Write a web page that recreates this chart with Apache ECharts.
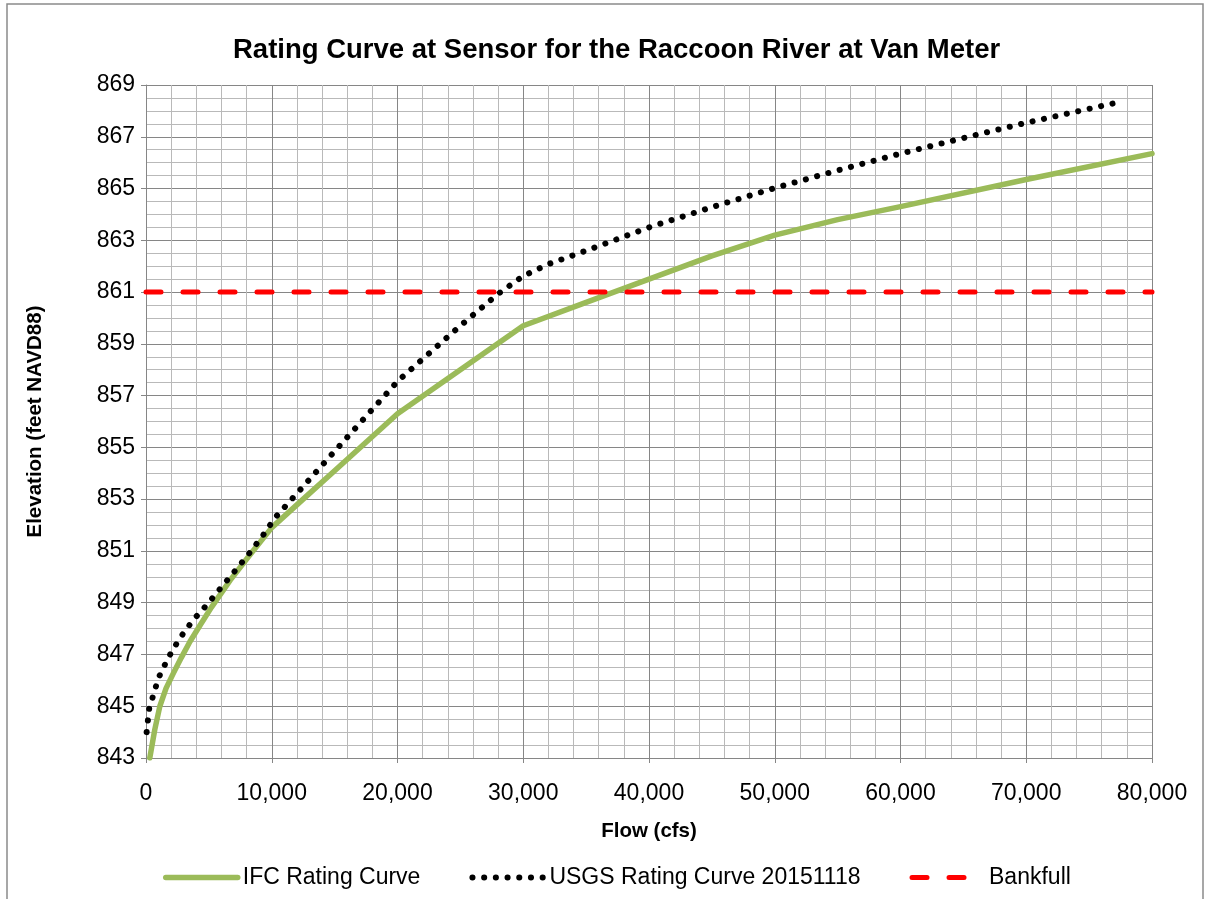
<!DOCTYPE html>
<html>
<head>
<meta charset="utf-8">
<script src="https://cdn.jsdelivr.net/npm/echarts@6/dist/echarts.min.js"></script>
<style>
  html, body { margin: 0; padding: 0; background: #fff; }
  #chart { width: 1207px; height: 899px; }
</style>
</head>
<body>
<div id="chart"></div>
<script>
// y axis starts at 843, which is not a multiple of the 2 ft step,
// so the axis runs on (elevation - Y_BASE) and labels add it back
const Y_BASE = 843

const xTicks = [0, 10000, 20000, 30000, 40000, 50000, 60000, 70000, 80000]
const yTicks = [843, 845, 847, 849, 851, 853, 855, 857, 859, 861, 863, 865, 867, 869]

// IFC rating curve: [flow cfs, elevation ft]
const ifcFlow = [300, 700, 1100, 1600, 2200, 2800, 3500, 4300, 5200, 6700, 8300, 10000, 12500, 15000, 20000,
  25000, 30000, 35000, 40000, 45000, 50000, 55000, 60000, 70000, 80000]
const ifcElev = [843.0, 844.1, 845.0, 845.7, 846.3, 846.87, 847.5, 848.13, 848.82, 849.87, 850.87, 851.9, 853.0, 854.1, 856.3,
  858.0, 859.7, 860.6, 861.5, 862.4, 863.2, 863.8, 864.3, 865.35, 866.35]

// USGS rating curve 20151118
const usgsFlow = [50, 250, 500, 1000, 1800, 2650, 3700, 4900, 6000, 7200, 8200, 9300, 10300,
  15000, 20000, 25000, 28000, 30000, 32000, 35000, 40000, 45000, 50000, 55000, 60000,
  66000, 70000, 77500]
const usgsElev = [844.0, 844.9, 845.3, 846.1, 846.9, 847.6, 848.3, 848.95, 849.6, 850.3, 850.9, 851.6, 852.3,
  854.85, 857.55, 859.7, 860.93, 861.62, 862.08, 862.6, 863.5, 864.28, 865.02, 865.7, 866.35,
  867.07, 867.54, 868.35]

// bankfull stage
const bankFlow = [0, 80000]
const bankElev = [861, 861]

const FONT = 'Liberation Sans'

function pairs(xs, ys) {
  return xs.map((x, i) => [x, ys[i] - Y_BASE])
}

const chart = echarts.init(document.getElementById('chart'))

const option = {
  backgroundColor: '#ffffff',
  animation: false,
  textStyle: { fontFamily: FONT, color: '#000' },
  graphic: [
    {
      type: 'rect',
      shape: { x: 7, y: 4, width: 1196, height: 1000 },
      style: { fill: 'none', stroke: '#8a8a8a', lineWidth: 1.5 },
      silent: true,
    },
  ],
  title: {
    text: 'Rating Curve at Sensor for the Raccoon River at Van Meter',
    left: 228,
    top: 31,
    textStyle: { fontFamily: FONT, fontSize: 27.5, fontWeight: 'bold', color: '#000' },
  },
  legend: {
    left: 158,
    top: 861,
    itemWidth: 72,
    itemHeight: 14,
    itemGap: 49,
    textStyle: { fontFamily: FONT, fontSize: 23, color: '#000' },
    lineStyle: { width: 'inherit' },
    itemStyle: { opacity: 0 },
    data: ['IFC Rating Curve', 'USGS Rating Curve 20151118', 'Bankfull'],
  },
  grid: {
    left: 146,
    right: 55,
    top: 85,
    bottom: 141,
    containLabel: false,
  },
  xAxis: {
    type: 'value',
    min: xTicks[0],
    max: xTicks[xTicks.length - 1],
    interval: 10000,
    name: 'Flow (cfs)',
    nameLocation: 'middle',
    nameGap: 63,
    nameTextStyle: { fontFamily: FONT, fontSize: 20.5, fontWeight: 'bold', color: '#000' },
    axisLine: { show: true, lineStyle: { color: '#868686', width: 1 } },
    axisTick: { show: true, inside: false, length: 5, lineStyle: { color: '#868686' } },
    axisLabel: {
      margin: 24,
      fontFamily: FONT,
      fontSize: 23,
      color: '#000',
      formatter: (v) => v.toLocaleString('en-US'),
    },
    splitLine: { show: true, lineStyle: { color: '#868686', width: 1 } },
    minorTick: { show: false, splitNumber: 5 },
    minorSplitLine: { show: true, lineStyle: { color: '#b9b9b9', width: 1 } },
  },
  yAxis: {
    type: 'value',
    min: yTicks[0] - Y_BASE,
    max: yTicks[yTicks.length - 1] - Y_BASE,
    interval: 2,
    name: 'Elevation (feet NAVD88)',
    nameLocation: 'middle',
    nameGap: 100,
    nameTextStyle: { fontFamily: FONT, fontSize: 20.5, fontWeight: 'bold', color: '#000' },
    axisLine: { show: true, lineStyle: { color: '#868686', width: 1 } },
    axisTick: { show: true, inside: false, length: 5, lineStyle: { color: '#868686' } },
    axisLabel: {
      margin: 11,
      fontFamily: FONT,
      fontSize: 23,
      color: '#000',
      formatter: (v) => String(v + Y_BASE),
    },
    splitLine: { show: true, lineStyle: { color: '#868686', width: 1 } },
    minorTick: { show: false, splitNumber: 4 },
    minorSplitLine: { show: true, lineStyle: { color: '#b9b9b9', width: 1 } },
  },
  series: [
    {
      name: 'IFC Rating Curve',
      type: 'line',
      data: pairs(ifcFlow, ifcElev),
      symbol: 'none',
      color: '#9bbb59',
      lineStyle: { color: '#9bbb59', width: 5.5, cap: 'round', join: 'round' },
    },
    {
      name: 'USGS Rating Curve 20151118',
      type: 'line',
      data: pairs(usgsFlow, usgsElev),
      symbol: 'none',
      color: '#000000',
      lineStyle: { color: '#000000', width: 6, type: [0.1, 11.6], cap: 'round', join: 'round' },
    },
    {
      name: 'Bankfull',
      type: 'line',
      data: pairs(bankFlow, bankElev),
      symbol: 'none',
      color: '#ff0000',
      lineStyle: { color: '#ff0000', width: 5, type: [15, 22], cap: 'round' },
    },
  ],
}

chart.setOption(option)
</script>
</body>
</html>
